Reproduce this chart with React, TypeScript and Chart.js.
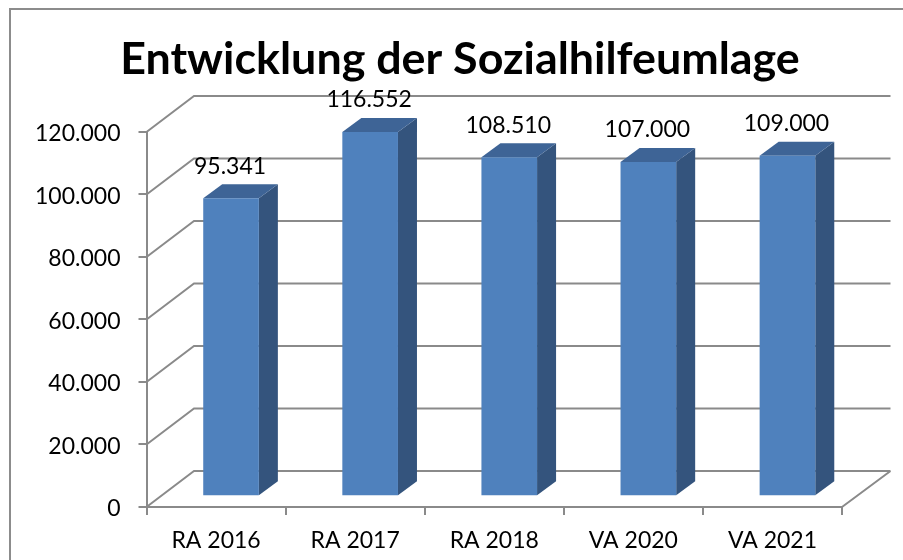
import React, { useEffect, useRef } from "react";
import { Chart, registerables } from "chart.js";

Chart.register(...registerables);

const categories = ["RA 2016", "RA 2017", "RA 2018", "VA 2020", "VA 2021"];
const values = [95341, 116552, 108510, 107000, 109000];
const chartTitle = "Entwicklung der Sozialhilfeumlage";

const FONT = "Lato, Carlito, Calibri, sans-serif";
const LINE = "#8a8a8a";
const DEPTH_X = 47.5;
const DEPTH_Y = 36;
const BAR_SHIFT_X = 15;
const BAR_SHIFT_Y = -10.7;
const BAR_DX = 19;
const BAR_DY = 14;

const fmt = (v: number) => v.toLocaleString("de-DE");

const frame3d = {
  id: "frame3d",
  afterLayout(chart: any) {
    if (chart.titleBlock) {
      chart.titleBlock.left = 17;
      chart.titleBlock.right = 903;
    }
  },
  beforeDraw(chart: any) {
    const { ctx, width, height } = chart;
    ctx.save();
    ctx.strokeStyle = "#8c8c8c";
    ctx.lineWidth = 2;
    ctx.beginPath();
    ctx.moveTo(10, height);
    ctx.lineTo(10, 9);
    ctx.lineTo(width, 9);
    ctx.stroke();
    ctx.restore();
  },
  beforeDatasetsDraw(chart: any) {
    const { ctx, chartArea, scales } = chart;
    const { left, right, bottom } = chartArea;
    ctx.save();
    ctx.strokeStyle = LINE;
    ctx.lineWidth = 2;
    ctx.beginPath();
    scales.y.ticks.forEach((t: any) => {
      const y = scales.y.getPixelForValue(t.value);
      ctx.moveTo(left, y);
      ctx.lineTo(left + DEPTH_X, y - DEPTH_Y);
      ctx.lineTo(right + DEPTH_X + 1, y - DEPTH_Y);
    });
    ctx.moveTo(right, bottom);
    ctx.lineTo(right + DEPTH_X + 1, bottom - DEPTH_Y);
    ctx.stroke();

    const meta = chart.getDatasetMeta(0);
    meta.data.forEach((bar: any) => {
      const l = bar.x - bar.width / 2 + BAR_SHIFT_X;
      const r = bar.x + bar.width / 2 + BAR_SHIFT_X;
      const t = bar.y + BAR_SHIFT_Y;
      const b = bar.base + BAR_SHIFT_Y;
      ctx.fillStyle = "#34547d";
      ctx.beginPath();
      ctx.moveTo(r, t);
      ctx.lineTo(r + BAR_DX, t - BAR_DY);
      ctx.lineTo(r + BAR_DX, b - BAR_DY);
      ctx.lineTo(r, b);
      ctx.closePath();
      ctx.fill();
      ctx.fillStyle = "#3e6496";
      ctx.beginPath();
      ctx.moveTo(l, t);
      ctx.lineTo(l + BAR_DX, t - BAR_DY);
      ctx.lineTo(r + BAR_DX, t - BAR_DY);
      ctx.lineTo(r, t);
      ctx.closePath();
      ctx.fill();
    });
    ctx.restore();
    ctx.save();
    ctx.translate(BAR_SHIFT_X, BAR_SHIFT_Y);
  },
  afterDatasetsDraw(chart: any) {
    const { ctx } = chart;
    ctx.restore();
    ctx.save();
    ctx.fillStyle = "#000";
    ctx.font = `23px ${FONT}`;
    ctx.textAlign = "center";
    ctx.textBaseline = "middle";
    const meta = chart.getDatasetMeta(0);
    meta.data.forEach((bar: any, i: number) => {
      ctx.fillText(fmt(values[i]), bar.x + BAR_SHIFT_X - 1, bar.y + BAR_SHIFT_Y - 32);
    });
    ctx.restore();
  },
};

export default function App() {
  const ref = useRef<HTMLCanvasElement>(null);
  useEffect(() => {
    const chart = new Chart(ref.current!, {
      type: "bar",
      data: {
        labels: categories,
        datasets: [
          {
            label: "Sozialhilfeumlage",
            data: values,
            backgroundColor: "#4f81bd",
            borderWidth: 0,
            barPercentage: 0.4,
            categoryPercentage: 1,
          },
        ],
      },
      options: {
        responsive: false,
        animation: false,
        layout: { padding: { left: 0, right: 61, top: 0, bottom: 0 } },
        plugins: {
          legend: { display: false },
          tooltip: { enabled: false },
          title: {
            display: true,
            text: chartTitle,
            color: "#000",
            font: { family: FONT, size: 44.8, weight: "bold", lineHeight: 1.2 },
            padding: { top: 33, bottom: 45.2 },
          },
        },
        scales: {
          x: {
            grid: {
              color: LINE,
              lineWidth: 2,
              drawOnChartArea: false,
              drawTicks: true,
              tickLength: 8,
              offset: true,
            },
            border: { color: LINE, width: 2 },
            ticks: { color: "#000", font: { family: FONT, size: 23 }, padding: 12, maxRotation: 0 },
            afterFit: (s: any) => {
              s.height = 53;
            },
          },
          y: {
            min: 0,
            max: 120000,
            grid: {
              color: LINE,
              lineWidth: 2,
              drawOnChartArea: false,
              drawTicks: true,
              tickLength: 8,
            },
            border: { color: LINE, width: 2 },
            ticks: {
              stepSize: 20000,
              color: "#000",
              font: { family: FONT, size: 23 },
              padding: 18,
              labelOffset: 2,
              callback: (v: any) => fmt(Number(v)),
            },
            afterFit: (s: any) => {
              s.width = 146.5;
            },
          },
        },
      },
      plugins: [frame3d],
    } as any);
    return () => chart.destroy();
  }, []);
  return (
    <div style={{ position: "absolute", left: 0, top: 0, width: 903, height: 560, background: "#fff" }}>
      <canvas ref={ref} width={903} height={560} style={{ display: "block" }} />
    </div>
  );
}
